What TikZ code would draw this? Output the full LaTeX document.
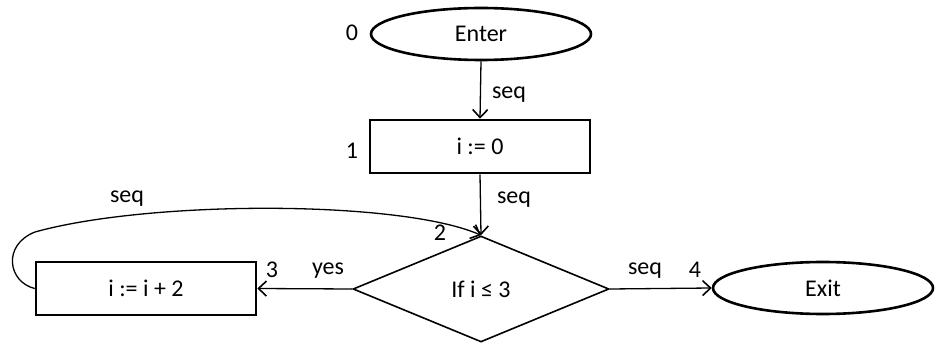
\documentclass[tikz,border=0pt]{standalone}
\usepackage{fontspec}
\setmainfont{Carlito}
\usetikzlibrary{shapes.geometric,arrows.meta}
\begin{document}
\begin{tikzpicture}[x=1pt,y=-1pt,
  every node/.style={font=\fontsize{24}{28}\selectfont},
  blk/.style={draw,line width=2.6pt,rectangle,minimum width=220pt,minimum height=53pt,inner sep=0pt},
  oval/.style={draw,line width=2.6pt,ellipse,minimum width=220pt,minimum height=52pt,inner sep=0pt},
  dec/.style={draw,line width=1.6pt,diamond,aspect=2.415,minimum width=256pt,minimum height=106pt,inner sep=0pt},
  conn/.style={line width=1.3pt,-{Straight Barb[length=8pt,width=15pt,line width=1.6pt]}},
  lbl/.style={inner sep=0pt}]
\useasboundingbox (0,0) rectangle (936,344);
\node[oval] (enter) at (481,34) {Enter};
\node[blk] (b1) at (480,146.5) {i := 0};
\node[dec] (d) at (481,289) {If i ≤ 3};
\node[blk] (b3) at (146,288.5) {i := i + 2};
\node[oval] (exit) at (823,288) {Exit};
\draw[conn] (enter.south) -- (b1.north);
\draw[conn] (b1.south) -- (d.north);
\draw[conn] (d.west) -- (b3.east);
\draw[conn] (d.east) -- (exit.west);
\draw[conn] (b3.west) .. controls (8,282) and (2,245) .. (35,232)
  .. controls (150,200) and (400,200) .. (d.north);
\node[lbl] (l0) at (352,33) {0};
\node[lbl] (l1) at (352,151) {1};
\node[lbl] (l2) at (440,233) {2};
\node[lbl] (l3) at (272,270) {3};
\node[lbl] (l4) at (695,270) {4};
\node[lbl] (s1) at (509,95) {seq};
\node[lbl] (s2) at (514,200) {seq};
\node[lbl] (s3) at (127,199) {seq};
\node[lbl] (s4) at (645,271) {seq};
\node[lbl] (y) at (328,271) {yes};
\end{tikzpicture}
\end{document}
